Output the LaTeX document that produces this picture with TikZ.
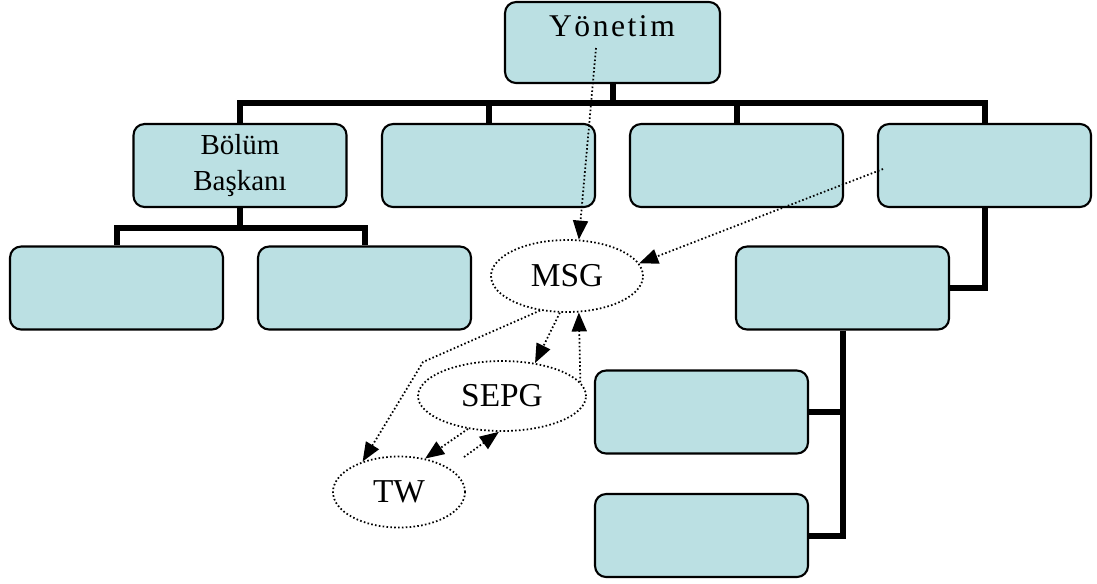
\documentclass[tikz,border=0pt]{standalone}
\usepackage{fontspec}
\setmainfont{Liberation Serif}
\usetikzlibrary{shapes.geometric,arrows.meta}
\definecolor{boxfill}{RGB}{187,224,227}
\tikzset{
  orgbox/.style={draw,line width=1.2pt,fill=boxfill,rounded corners=0.22cm,
    minimum width=4.26cm,minimum height=1.66cm,inner sep=0pt,align=center,
    font=\fontsize{16.5}{20.5}\selectfont},
  team/.style={ellipse,draw,line width=1pt,dash pattern=on 0.9pt off 1.3pt,
    inner sep=0pt,font=\fontsize{19}{23}\selectfont},
  link/.style={line width=0.12cm},
  flow/.style={line width=1pt,dash pattern=on 0.9pt off 1.3pt,
    -{Triangle[length=0.38cm,width=0.3cm]}}
}
\begin{document}
\begin{tikzpicture}[x=0.02cm,y=-0.02cm]
  \useasboundingbox (0,0) rectangle (1097,583);
  \draw
    (612.5,42.5) node[orgbox,minimum width=4.3cm,minimum height=1.62cm] (yonetim){}
    (612,36) node[anchor=base,inner sep=0pt,font=\fontsize{18}{22}\selectfont\addfontfeature{LetterSpace=8}] (yonetimtext){Yönetim}
    (240,165.5) node[orgbox] (bolum){Bölüm\\Başkanı}
    (488.5,165.5) node[orgbox] (b2){}
    (736.5,165.5) node[orgbox] (b3){}
    (984.5,165.5) node[orgbox] (b4){}
    (116.5,288) node[orgbox] (b11){}
    (364.5,288) node[orgbox] (b12){}
    (842.5,288) node[orgbox] (b41){}
    (701.5,412) node[orgbox] (b411){}
    (701.5,535.5) node[orgbox] (b412){};
  \begin{scope}[link]
    \draw (yonetim.south) -- ++(0,19) coordinate (hub);
    \foreach \b in {bolum,b2,b3,b4}
      \draw (hub) -| (\b.north);
    \draw (bolum.south) -- ++(0,20) coordinate (hub1);
    \draw (hub1) -| (b11.north);
    \draw (hub1) -| (b12.north);
    \draw (b4.south) |- (b41.east);
    \draw (b41.south) |- (b411.east);
    \draw (b41.south) |- (b412.east);
  \end{scope}
  \draw
    (567,276) node[team,minimum width=3.04cm,minimum height=1.44cm] (msg){MSG}
    (502,396) node[team,minimum width=3.36cm,minimum height=1.4cm] (sepg){SEPG}
    (399,492) node[team,minimum width=2.64cm,minimum height=1.42cm] (tw){TW};
  \coordinate (ystart) at (596,48);
  \coordinate (bstart) at (883,169);
  \coordinate (bend) at (423,362);
  \coordinate (twstart) at (464,457);
  \begin{scope}[flow]
    \draw (ystart) -- (msg.72);
    \draw (bstart) -- (msg.10);
    \draw (msg.232) -- (bend) -- (tw.140);
    \draw (msg.259) -- (sepg.45);
    \draw (sepg.10) -- (msg.288);
    \draw (sepg.224) -- (tw.52);
    \draw (twstart) -- (sepg.265);
  \end{scope}
\end{tikzpicture}
\end{document}
